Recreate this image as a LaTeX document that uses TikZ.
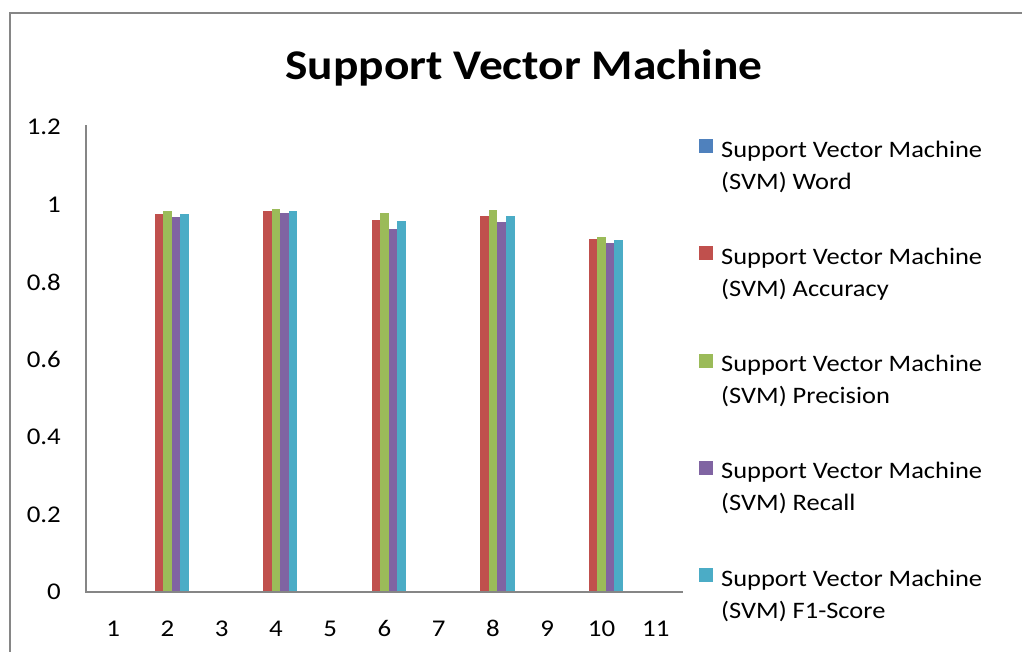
\documentclass[tikz,border=0pt]{standalone}
\usepackage{fontspec}
\setmainfont{Carlito}[FakeStretch=1.12]
\usepackage{tikz}
\usetikzlibrary{positioning}
\definecolor{svmword}{HTML}{4F81BD}
\definecolor{svmacc}{HTML}{C0504D}
\definecolor{svmprec}{HTML}{9BBB59}
\definecolor{svmrec}{HTML}{8064A2}
\definecolor{svmfone}{HTML}{4BACC6}
\definecolor{axisgray}{HTML}{868686}
\tikzset{ticklabel/.style={inner sep=0pt,font=\fontsize{24}{28}\selectfont},
  legendbox/.style={inner sep=0pt,minimum size=14pt},
  legendtext/.style={inner sep=0pt,anchor=north west,align=left,font=\fontsize{23.6}{32}\selectfont}}

\begin{document}
\begin{tikzpicture}[x=1pt,y=-1pt]
\useasboundingbox (0,0) rectangle (1022,651);
\clip (0,0) rectangle (1022,651);
% chart frame
\draw[axisgray, line width=2pt] (10,13) rectangle (1040,670);
\node[font=\fontsize{42.3}{46}\selectfont\bfseries, anchor=base] (title) at (524,79) {Support Vector Machine};

% bars (Word is 0 everywhere)
\foreach \c/\acc/\prec/\rec/\fone in {2/0.975/0.983/0.968/0.975, 4/0.983/0.988/0.978/0.983,
    6/0.960/0.978/0.937/0.957, 8/0.970/0.986/0.955/0.970, 10/0.911/0.916/0.901/0.908}{
  \pgfmathsetmacro\cx{86+54.27*(\c-0.5)}
  \fill[svmacc] (\cx-12.9,592) rectangle ++(8.6,-387.5*\acc);
  \fill[svmprec] (\cx-4.3,592) rectangle ++(8.6,-387.5*\prec);
  \fill[svmrec] (\cx+4.3,592) rectangle ++(8.6,-387.5*\rec);
  \fill[svmfone] (\cx+12.9,592) rectangle ++(8.6,-387.5*\fone);
}

% axes
\coordinate (ytop) at (86,125);
\coordinate (origin) at (86,592);
\coordinate (xend) at (683,592);
\draw[axisgray, line width=1.5pt] (ytop) -- (origin) -- (xend);

\foreach \lab [count=\i] in {0,0.2,0.4,0.6,0.8,1,1.2}
  \node[ticklabel, anchor=east] (ytick\i) at (61,{592-77.5*(\i-1)}) {\lab};
\foreach \c in {1,...,11}
  \node[ticklabel, anchor=base] (xtick\c) at ({86+54.27*(\c-0.5)},636) {\c};

% legend
\foreach \col/\name [count=\k] in {svmword/Word, svmacc/Accuracy, svmprec/Precision, svmrec/Recall, svmfone/F1-Score}{
  \node[legendbox, fill=\col] (sq\k) at (706,{146+107.3*(\k-1)}) {};
  \node[legendtext] (leg\k) at (721,{140.5+107.3*(\k-1)}) {Support Vector Machine\\(SVM) \name};
}
\end{tikzpicture}
\end{document}
